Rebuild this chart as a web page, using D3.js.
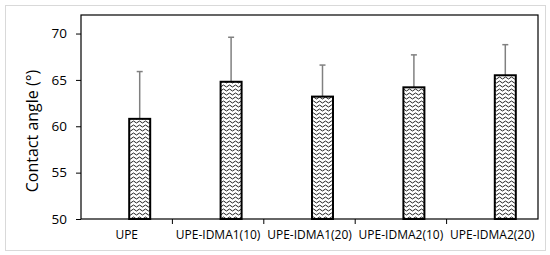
<!DOCTYPE html>
<html>
<head>
<meta charset="utf-8">
<script src="https://cdn.jsdelivr.net/npm/d3@7"></script>
<style>
  body { margin: 0; background: #fff; }
  text { font-family: "Open Sans", "Noto Sans", sans-serif; fill: #000; }
</style>
</head>
<body>
<div id="chart"></div>
<script>
const categories = ["UPE", "UPE-IDMA1(10)", "UPE-IDMA1(20)", "UPE-IDMA2(10)", "UPE-IDMA2(20)"];
const angles = [60.8, 64.8, 63.2, 64.2, 65.5];
const errors = [5.1, 4.8, 3.4, 3.5, 3.3];
const yTicks = [50, 55, 60, 65, 70];

const width = 550, height = 255;
const margin = { top: 15, right: 12, bottom: 36, left: 81 };
const barWidth = 21;
const barShift = 13; // bars sit right of the category centre in the source

const svg = d3.select('#chart').append('svg')
    .attr('width', width)
    .attr('height', height);

// wavy fill
const defs = svg.append('defs');
const pat = defs.append('pattern')
    .attr('id', 'wave')
    .attr('patternUnits', 'userSpaceOnUse')
    .attr('width', 6)
    .attr('height', 4);
pat.append('rect').attr('width', 6).attr('height', 4).attr('fill', '#fff');
pat.append('path')
    .attr('d', 'M0,2 Q1.5,0 3,2 T6,2')
    .attr('fill', 'none')
    .attr('stroke', '#222')
    .attr('stroke-width', 1);

// outer frame
svg.append('rect')
    .attr('x', 5.5).attr('y', 5.5)
    .attr('width', 540).attr('height', 245)
    .attr('fill', 'none')
    .attr('stroke', '#d9d9d9');

const x = d3.scaleBand()
    .domain(categories)
    .range([margin.left, width - margin.right]);

const y = d3.scaleLinear()
    .domain([50, 72])
    .range([height - margin.bottom, margin.top]);

// plot box
svg.append('rect')
    .attr('x', margin.left).attr('y', margin.top)
    .attr('width', width - margin.left - margin.right)
    .attr('height', height - margin.top - margin.bottom)
    .attr('fill', 'none')
    .attr('stroke', '#000')
    .attr('stroke-width', 1.2);

// y axis
const yAxis = svg.append('g')
    .attr('transform', `translate(${margin.left},0)`)
    .call(d3.axisLeft(y).tickValues(yTicks).tickSize(5).tickPadding(9));
yAxis.select('.domain').remove();
yAxis.selectAll('text').style('font-size', '13.5px');

// x axis, ticks between categories
const xAxis = svg.append('g')
    .attr('transform', `translate(0,${height - margin.bottom})`)
    .call(d3.axisBottom(x).tickSize(0).tickPadding(11));
xAxis.select('.domain').remove();
xAxis.selectAll('text').style('font-size', '12px');
svg.append('g')
    .selectAll('line')
    .data(categories.slice(1))
    .join('line')
    .attr('x1', d => x(d)).attr('x2', d => x(d))
    .attr('y1', height - margin.bottom)
    .attr('y2', height - margin.bottom + 5)
    .attr('stroke', '#000');

// error bars
const cx = d => x(d) + x.bandwidth() / 2 + barShift;
const eb = svg.append('g')
    .attr('stroke', '#808080')
    .attr('stroke-width', 1.5);
categories.forEach((c, i) => {
    eb.append('line')
        .attr('x1', cx(c)).attr('x2', cx(c))
        .attr('y1', y(angles[i])).attr('y2', y(angles[i] + errors[i]));
    eb.append('line')
        .attr('x1', cx(c) - 3).attr('x2', cx(c) + 3)
        .attr('y1', y(angles[i] + errors[i])).attr('y2', y(angles[i] + errors[i]));
});

// bars
svg.append('g')
    .selectAll('rect')
    .data(categories)
    .join('rect')
    .attr('x', d => cx(d) - barWidth / 2)
    .attr('width', barWidth)
    .attr('y', (d, i) => y(angles[i]))
    .attr('height', (d, i) => y(50) - y(angles[i]))
    .attr('fill', 'url(#wave)')
    .attr('stroke', '#000')
    .attr('stroke-width', 2);

// y title
svg.append('text')
    .attr('transform', 'translate(38,131) rotate(-90)')
    .attr('text-anchor', 'middle')
    .style('font-size', '16px')
    .text('Contact angle (°)');
</script>
</body>
</html>
